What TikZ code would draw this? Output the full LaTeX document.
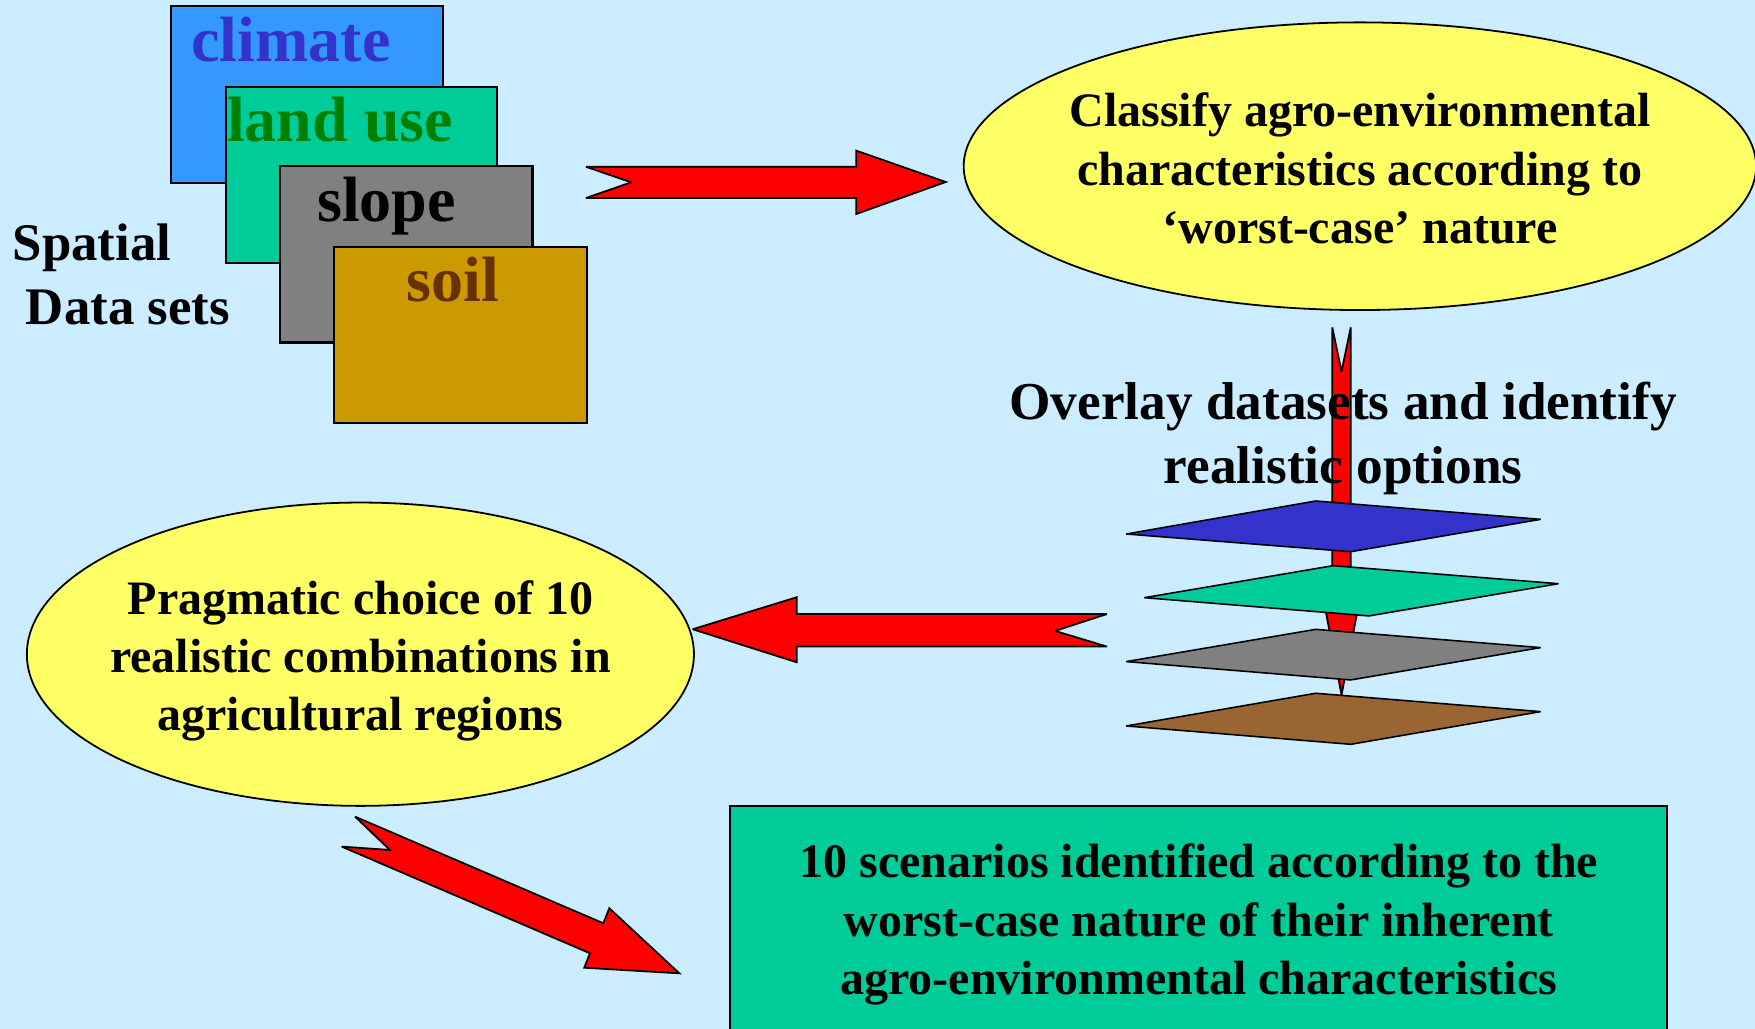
\documentclass[tikz,border=0pt]{standalone}
\usepackage{fontspec}
\setmainfont{Liberation Serif}
\usetikzlibrary{shapes.geometric}
\definecolor{bgblue}{HTML}{CCECFF}
\definecolor{climfill}{HTML}{3399FF}
\definecolor{climtext}{HTML}{3333CC}
\definecolor{landfill}{HTML}{00CC99}
\definecolor{landtext}{HTML}{008000}
\definecolor{slopefill}{HTML}{808080}
\definecolor{soilfill}{HTML}{CC9900}
\definecolor{soiltext}{HTML}{663300}
\definecolor{ellyellow}{HTML}{FFFF66}
\definecolor{sheetbrown}{HTML}{996633}

\begin{document}
\begin{tikzpicture}[x=0.5pt,y=-0.5pt,
    datarect/.style={draw=black,line width=1pt},
    bigarrow/.style={fill=red,draw=black,line width=0.8pt,miter limit=3},
    sheet/.style={draw=black,line width=0.7pt,miter limit=3},
    rectlbl/.style={font=\fontsize{28.6}{33}\selectfont\bfseries,anchor=base,inner sep=0pt},
    bigtxt/.style={font=\fontsize{23.6}{28.5}\selectfont\bfseries,inner sep=0pt},
    celltxt/.style={font=\fontsize{21.45}{26}\selectfont\bfseries,align=center,inner sep=0pt},
    yellowell/.style={ellipse,draw=black,fill=ellyellow,line width=0.8pt,inner sep=0pt}]
    \useasboundingbox (0,0) rectangle (1568,919);
    \fill[bgblue] (0,0) rectangle (1568,919);

    % the four data sets
    \draw[datarect,fill=climfill] (153,5.4) rectangle (395.7,163.8);
    \node[rectlbl,text=climtext] (climate) at (260,55.1) {climate};
    \draw[datarect,fill=landfill] (201.7,77.4) rectangle (444,235.3);
    \node[rectlbl,text=landtext] (landuse) at (303.8,126.6) {land use};
    \draw[datarect,fill=slopefill] (250.1,148.3) rectangle (475.8,306.1);
    \node[rectlbl,text=black] (slope) at (345.4,198.1) {slope};
    \draw[datarect,fill=soilfill] (298.5,220.4) rectangle (524.3,378.2);
    \node[rectlbl,text=soiltext] (soil) at (404.9,269.5) {soil};

    \node[bigtxt,align=left,anchor=north west] (spatial) at (11,200) {Spatial\\~Data sets};

    \draw[bigarrow] (523.5,149) -- (765,149) -- (765,134.6) -- (845,162.6) -- (765,191.2) -- (765,176.9) -- (523.5,176.9) -- (564,162.9) -- cycle;

    \node[yellowell,minimum width=354pt,minimum height=128.5pt] (classifyell) at (1215,148.5) {};
    \node[celltxt] (classify) at (1215,150.5) {Classify agro-environmental\\characteristics according to\\‘worst-case’ nature};

    % overlay
    \draw[bigarrow] (1190.3,292.5) -- (1198.6,332) -- (1206.8,292.5) -- (1206.8,533.4) -- (1215.1,533.4) -- (1198.6,620.9) -- (1182.1,533.4) -- (1190.3,533.4) -- cycle;
    \node[bigtxt,align=center,font=\fontsize{23.8}{28.7}\selectfont\bfseries] (overlay) at (1200,392) {Overlay datasets and identify\\realistic options};

    \draw[sheet,fill=climtext] (1175.5,447.6) -- (1376.5,464) -- (1206.8,492.9) -- (1006.2,477.1) -- cycle;
    \draw[sheet,fill=landfill] (1191,505.4) -- (1392.4,521.5) -- (1223.1,550.3) -- (1022.4,534) -- cycle;
    \draw[sheet,fill=slopefill] (1175.5,562.3) -- (1376.5,578.6) -- (1206.8,607.5) -- (1006.2,591.1) -- cycle;
    \draw[sheet,fill=sheetbrown] (1175.5,619.4) -- (1376.5,635.8) -- (1206.8,665) -- (1006.2,648.6) -- cycle;

    \draw[bigarrow] (989,548.6) -- (711.8,548.6) -- (711.8,533.6) -- (618.9,562.2) -- (711.8,591.7) -- (711.8,577.7) -- (989,577.7) -- (942.6,563.7) -- cycle;

    \node[yellowell,minimum width=298pt,minimum height=135.5pt] (choiceell) at (322,584.5) {};
    \node[celltxt] (choice) at (322,590.5) {Pragmatic choice of 10\\realistic combinations in\\agricultural regions};

    \draw[bigarrow] (317.2,729.6) -- (539,824.9) -- (544.4,811.5) -- (606.9,869.6) -- (522,864.6) -- (527.1,851.7) -- (305.3,756.4) -- (348.4,759.4) -- cycle;

    \draw[datarect,fill=landfill] (652.5,720.1) rectangle (1489.3,930);
    \node[celltxt] (scenarios) at (1071,826) {10 scenarios identified according to the\\worst-case nature of their inherent\\agro-environmental characteristics};
\end{tikzpicture}
\end{document}
